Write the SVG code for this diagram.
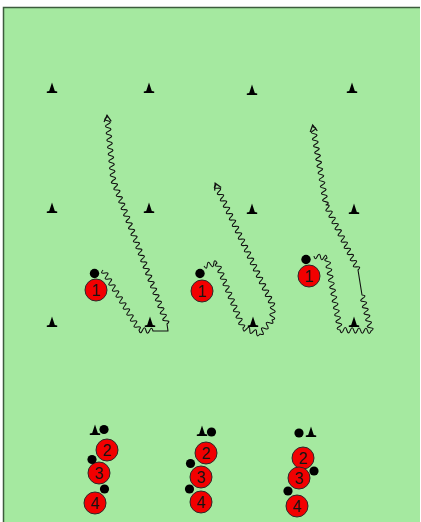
<svg xmlns="http://www.w3.org/2000/svg" xmlns:xlink="http://www.w3.org/1999/xlink" width="421" height="522" viewBox="0 0 421 522">
<style>
.player circle{fill:#f20000;stroke:#2a2a2a;stroke-width:1}
.player text{font-family:"Liberation Sans",Arial,sans-serif;font-size:16px;fill:#151515;text-anchor:middle}
.ball{fill:#000}
.cone{fill:#000}
.wave{fill:none;stroke:#111;stroke-width:1.1;stroke-linejoin:round;marker-end:url(#arr)}
</style>
<defs>
<path id="cone" d="M0,-10.5 L2.8,-2 L5.2,-1.6 L5.2,0 L-5.2,0 L-5.2,-1.6 L-2.8,-2 Z"/>
<marker id="arr" markerUnits="userSpaceOnUse" markerWidth="14" markerHeight="14" viewBox="-10 -7 14 14" refX="0" refY="0" orient="auto" overflow="visible">
<path d="M-6.5,-3.6 L0,0 L-6.5,3.6" fill="none" stroke="#111" stroke-width="1.2"/>
</marker>
</defs>
<rect x="0" y="0" width="421" height="522" fill="#ffffff"/>
<rect x="3" y="7" width="417" height="520" fill="#a5e9a0"/>
<path d="M3.5,530 V7.5 H420" fill="none" stroke="#3d5c3d" stroke-width="1.5"/>

<g id="cones">
<use href="#cone" class="cone" x="52" y="93"/>
<use href="#cone" class="cone" x="149" y="93"/>
<use href="#cone" class="cone" x="252" y="95"/>
<use href="#cone" class="cone" x="352" y="93"/>
<use href="#cone" class="cone" x="52" y="213"/>
<use href="#cone" class="cone" x="149" y="213"/>
<use href="#cone" class="cone" x="252" y="214"/>
<use href="#cone" class="cone" x="354" y="214"/>
<use href="#cone" class="cone" x="52" y="327"/>
<use href="#cone" class="cone" x="150" y="327"/>
<use href="#cone" class="cone" x="253" y="327"/>
<use href="#cone" class="cone" x="354" y="327"/>
<use href="#cone" class="cone" x="95" y="435"/>
<use href="#cone" class="cone" x="202" y="436"/>
<use href="#cone" class="cone" x="311" y="437"/>
</g>

<g id="connectors">
<path id="dribble-1" class="wave" d="M103,270 q-3.56,4.18 1.8,3 t1.8,3 t1.8,3 t1.8,3 t1.8,3 t1.8,3 t1.8,3 t1.8,3 t1.8,3 t1.8,3 t1.8,3 t1.8,3 t1.8,3 t1.8,3 t1.8,3 t1.8,3 t1.8,3 t1.8,3 t1.8,3 t1.8,3
q1.39,5.33 3.5,0.25 t3.5,0.25 t3.5,0.25 t3.5,0.25
L168,331 L167,324
q4.25,-3.45 -1.2222,-3.2667 t-1.2222,-3.2667 t-1.2222,-3.2667 t-1.2222,-3.2667 t-1.2222,-3.2667 t-1.2222,-3.2667 t-1.2222,-3.2667 t-1.2222,-3.2667 t-1.2222,-3.2667 t-1.2222,-3.2667 t-1.2222,-3.2667 t-1.2222,-3.2667 t-1.2222,-3.2667 t-1.2222,-3.2667 t-1.2222,-3.2667 t-1.2222,-3.2667 t-1.2222,-3.2667 t-1.2222,-3.2667 t-1.2222,-3.2667 t-1.2222,-3.2667 t-1.2222,-3.2667 t-1.2222,-3.2667 t-1.2222,-3.2667 t-1.2222,-3.2667 t-1.2222,-3.2667 t-1.2222,-3.2667 t-1.2222,-3.2667 t-1.2222,-3.2667 t-1.2222,-3.2667 t-1.2222,-3.2667 t-1.2222,-3.2667 t-1.2222,-3.2667 t-1.2222,-3.2667 t-1.2222,-3.2667 t-1.2222,-3.2667 t-1.2222,-3.2667 t-1.2222,-3.2667 t-1.2222,-3.2667 t-1.2222,-3.2667 t-1.2222,-3.2667 t-1.2222,-3.2667 t-1.2222,-3.2667 t-1.2222,-3.2667 t-1.2222,-3.2667
q5.0,-2.24 -0.3333,-3.5 t-0.3333,-3.5 t-0.3333,-3.5 t-0.3333,-3.5 t-0.3333,-3.5 t-0.3333,-3.5 t-0.3333,-3.5 t-0.3333,-3.5 t-0.3333,-3.5 t-0.3333,-3.5 t-0.3333,-3.5 t-0.3333,-3.5 t-0.3333,-3.5 t-0.3333,-3.5 t-0.3333,-3.5 t-0.3333,-3.5 t-0.3333,-3.5 t-0.3333,-3.5
l-0.19,-2"/>
<path id="dribble-2" class="wave" d="M204,266 q2.8,4.7 3.25,-0.75 t3.25,-0.75 t3.25,-0.75 t3.25,-0.75
q-4.17,3.56 1.3,3.25 t1.3,3.25 t1.3,3.25 t1.3,3.25 t1.3,3.25 t1.3,3.25 t1.3,3.25 t1.3,3.25 t1.3,3.25 t1.3,3.25 t1.3,3.25 t1.3,3.25 t1.3,3.25 t1.3,3.25 t1.3,3.25 t1.3,3.25 t1.3,3.25 t1.3,3.25 t1.3,3.25 t1.3,3.25
q-0.03,5.5 3.4,1.2 t3.4,1.2 t3.4,1.2 t3.4,1.2 t3.4,1.2
q5.15,1.98 2.4,-2.8 t2.4,-2.8 t2.4,-2.8 t2.4,-2.8 t2.4,-2.8
q5.31,-1.39 0.25,-3.5 t0.25,-3.5 t0.25,-3.5 t0.25,-3.5
q3.96,-3.8 -1.5,-3.1842 t-1.5,-3.1842 t-1.5,-3.1842 t-1.5,-3.1842 t-1.5,-3.1842 t-1.5,-3.1842 t-1.5,-3.1842 t-1.5,-3.1842 t-1.5,-3.1842 t-1.5,-3.1842 t-1.5,-3.1842 t-1.5,-3.1842 t-1.5,-3.1842 t-1.5,-3.1842 t-1.5,-3.1842 t-1.5,-3.1842 t-1.5,-3.1842 t-1.5,-3.1842 t-1.5,-3.1842 t-1.5,-3.1842 t-1.5,-3.1842 t-1.5,-3.1842 t-1.5,-3.1842 t-1.5,-3.1842 t-1.5,-3.1842 t-1.5,-3.1842 t-1.5,-3.1842 t-1.5,-3.1842 t-1.5,-3.1842 t-1.5,-3.1842 t-1.5,-3.1842 t-1.5,-3.1842 t-1.5,-3.1842 t-1.5,-3.1842 t-1.5,-3.1842 t-1.5,-3.1842 t-1.5,-3.1842 t-1.5,-3.1842
l-0.85,-1.8"/>
<path id="dribble-3" class="wave" d="M314,256 q0.83,5.37 3.25,0.5 t3.25,0.5 t3.25,0.5 t3.25,0.5
q-4.81,2.64 0.619,3.4286 t0.619,3.4286 t0.619,3.4286 t0.619,3.4286 t0.619,3.4286 t0.619,3.4286 t0.619,3.4286 t0.619,3.4286 t0.619,3.4286 t0.619,3.4286 t0.619,3.4286 t0.619,3.4286 t0.619,3.4286 t0.619,3.4286 t0.619,3.4286 t0.619,3.4286 t0.619,3.4286 t0.619,3.4286 t0.619,3.4286 t0.619,3.4286 t0.619,3.4286
q1.54,5.26 3.444,0.111 t3.444,0.111 t3.444,0.111 t3.444,0.111 t3.444,0.111 t3.444,0.111 t3.444,0.111 t3.444,0.111 t3.444,0.111
q4.63,-2.9 -0.818,-3.273 t-0.818,-3.273 t-0.818,-3.273 t-0.818,-3.273 t-0.818,-3.273 t-0.818,-3.273 t-0.818,-3.273 t-0.818,-3.273 t-0.818,-3.273 t-0.818,-3.273 t-0.818,-3.273
L358,270
q3.91,-3.85 -1.5238,-3.0952 t-1.5238,-3.0952 t-1.5238,-3.0952 t-1.5238,-3.0952 t-1.5238,-3.0952 t-1.5238,-3.0952 t-1.5238,-3.0952 t-1.5238,-3.0952 t-1.5238,-3.0952 t-1.5238,-3.0952 t-1.5238,-3.0952 t-1.5238,-3.0952 t-1.5238,-3.0952 t-1.5238,-3.0952 t-1.5238,-3.0952 t-1.5238,-3.0952 t-1.5238,-3.0952 t-1.5238,-3.0952 t-1.5238,-3.0952 t-1.5238,-3.0952 t-1.5238,-3.0952
q4.84,-2.56 -0.5652,-3.3913 t-0.5652,-3.3913 t-0.5652,-3.3913 t-0.5652,-3.3913 t-0.5652,-3.3913 t-0.5652,-3.3913 t-0.5652,-3.3913 t-0.5652,-3.3913 t-0.5652,-3.3913 t-0.5652,-3.3913 t-0.5652,-3.3913 t-0.5652,-3.3913 t-0.5652,-3.3913 t-0.5652,-3.3913 t-0.5652,-3.3913 t-0.5652,-3.3913 t-0.5652,-3.3913 t-0.5652,-3.3913 t-0.5652,-3.3913 t-0.5652,-3.3913 t-0.5652,-3.3913 t-0.5652,-3.3913 t-0.5652,-3.3913
l-0.33,-1.97"/>
</g>

<g id="player-1a" class="player"><circle cx="96" cy="290" r="11"/><text x="96" y="295.5">1</text></g>
<g id="player-1b" class="player"><circle cx="202" cy="291" r="11"/><text x="202" y="296.5">1</text></g>
<g id="player-1c" class="player"><circle cx="309" cy="276" r="11"/><text x="309" y="281.5">1</text></g>

<g id="player-2a" class="player"><circle cx="107" cy="450" r="11"/><text x="107" y="455.5">2</text></g>
<g id="player-3a" class="player"><circle cx="99" cy="473" r="11"/><text x="99" y="478.5">3</text></g>
<g id="player-4a" class="player"><circle cx="95" cy="503" r="11"/><text x="95" y="508.5">4</text></g>

<g id="player-2b" class="player"><circle cx="206" cy="453" r="11"/><text x="206" y="458.5">2</text></g>
<g id="player-3b" class="player"><circle cx="201" cy="477" r="11"/><text x="201" y="482.5">3</text></g>
<g id="player-4b" class="player"><circle cx="201" cy="502" r="11"/><text x="201" y="507.5">4</text></g>

<g id="player-2c" class="player"><circle cx="303" cy="458" r="11"/><text x="303" y="463.5">2</text></g>
<g id="player-3c" class="player"><circle cx="299" cy="478" r="11"/><text x="299" y="483.5">3</text></g>
<g id="player-4c" class="player"><circle cx="297" cy="506" r="11"/><text x="297" y="511.5">4</text></g>

<g id="balls">
<circle class="ball" cx="94.5" cy="273.5" r="4.7"/>
<circle class="ball" cx="200" cy="273.5" r="4.7"/>
<circle class="ball" cx="306" cy="259.5" r="4.7"/>
<circle class="ball" cx="104" cy="429.5" r="4.6"/>
<circle class="ball" cx="92" cy="459.5" r="4.6"/>
<circle class="ball" cx="104.5" cy="489" r="4.6"/>
<circle class="ball" cx="211.5" cy="432" r="4.6"/>
<circle class="ball" cx="190.5" cy="463.5" r="4.6"/>
<circle class="ball" cx="189.5" cy="489" r="4.6"/>
<circle class="ball" cx="299" cy="433" r="4.6"/>
<circle class="ball" cx="314" cy="471" r="4.6"/>
<circle class="ball" cx="288" cy="491" r="4.6"/>
</g>
</svg>
